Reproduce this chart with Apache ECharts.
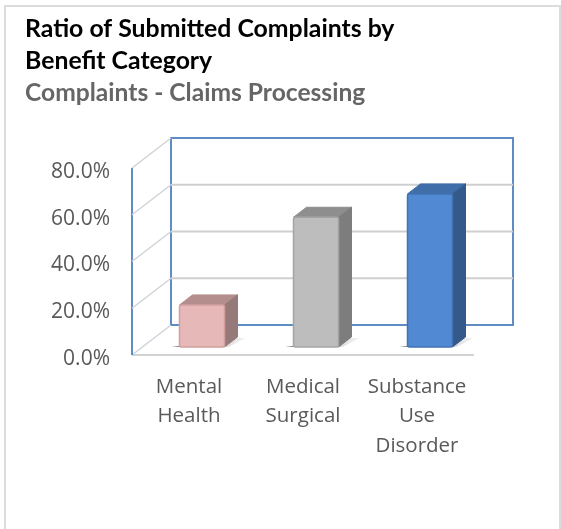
<!DOCTYPE html>
<html><head><meta charset="utf-8">
<style>html,body{margin:0;padding:0;background:#fff}#c{width:561px;height:529px}</style>
<script src="https://cdn.jsdelivr.net/npm/echarts@6/dist/echarts.min.js"></script>
</head><body><div id="c"></div>
<script>
const categories = ['Mental\nHealth', 'Medical\nSurgical', 'Substance\nUse\nDisorder'];
const ratios = [0.18, 0.555, 0.655];
const axisTicks = [0, 0.2, 0.4, 0.6, 0.8];
const frontColors = ['#E6B8B7', '#BDBDBD', '#5289D3'];
const topColors = ['#B48E8D', '#8E8E8E', '#3F6EA9'];
const sideColors = ['#957A79', '#7D7D7D', '#345A8C'];
const edgeColors = ['#D29F9E', '#A5A5A5', '#4272B4'];

const DEPTH_X = 39, DEPTH_Y = -30;      // plot depth: floor front edge to back wall
const BAR_OFF_X = 13, BAR_OFF_Y = -8;   // bar front face inside the floor
const BAR_DX = 13, BAR_DY = -10;        // bar's own depth
const BAR_W = 45;

const chart = echarts.init(document.getElementById('c'), null, {renderer: 'canvas'});

function wallItem(params, api) {
  const g = params.coordSys, v = api.value(0);
  const yy = api.coord([0, v])[1];
  const L = g.x, R = g.x + g.width;
  const kids = [];
  const grey = (shape, c, w) => ({type: 'polyline', shape, style: {fill: null, stroke: c, lineWidth: w}});
  const isTop = v === axisTicks[axisTicks.length - 1], isBottom = v === 0;
  kids.push(grey({points: [[L, yy], [L + DEPTH_X, yy + DEPTH_Y]]}, '#D0D3D8', 1.5));
  if (isBottom) {
    kids.push(grey({points: [[L, yy], [R, yy]]}, '#D2D2D2', 2));
    kids.push({type: 'polyline', shape: {points: [[L + DEPTH_X, yy + DEPTH_Y], [R + DEPTH_X, yy + DEPTH_Y], [R + DEPTH_X, g.y + DEPTH_Y], [L + DEPTH_X, g.y + DEPTH_Y], [L + DEPTH_X, yy + DEPTH_Y]]}, style: {fill: null, stroke: '#5F8DC3', lineWidth: 2}});
    kids.push({type: 'polyline', shape: {points: [[L, yy], [L, g.y]]}, style: {fill: null, stroke: '#5F8DC3', lineWidth: 2}});
  } else if (!isTop) {
    kids.push(grey({points: [[L + DEPTH_X, yy + DEPTH_Y], [R + DEPTH_X, yy + DEPTH_Y]]}, '#CFCFCF', 2));
  }
  return {type: 'group', children: kids};
}

function barItem(params, api) {
  const i = api.value(0), v = api.value(1);
  const base = api.coord([i, 0]), top = api.coord([i, v]);
  const x0 = base[0] + BAR_OFF_X - BAR_W / 2, x1 = x0 + BAR_W;
  const yb = base[1] + BAR_OFF_Y, yt = top[1] + BAR_OFF_Y;
  const dx = BAR_DX, dy = BAR_DY;
  return {type: 'group', children: [
    {type: 'polygon', shape: {points: [[x0 - 8, yb], [x1 + 4, yb], [x1 + dx + 8, yb + dy + 1], [x1 + dx - 4, yb + dy + 1]]},
      style: {fill: new echarts.graphic.LinearGradient(0, 1, 1, 0, [{offset: 0, color: 'rgba(90,90,90,0.85)'}, {offset: 1, color: 'rgba(190,190,190,0.2)'}])}},
    {type: 'polygon', shape: {points: [[x0, yt], [x0 + dx, yt + dy], [x1 + dx, yt + dy], [x1, yt]]},
      style: {fill: topColors[i], stroke: topColors[i], lineWidth: 1, lineJoin: 'round'}},
    {type: 'polygon', shape: {points: [[x1, yt], [x1 + dx, yt + dy], [x1 + dx, yb + dy], [x1, yb]]},
      style: {fill: sideColors[i], stroke: sideColors[i], lineWidth: 1, lineJoin: 'round'}},
    {type: 'rect', shape: {x: x0, y: yt, width: BAR_W, height: yb - yt, r: 2},
      style: {fill: frontColors[i], stroke: edgeColors[i], lineWidth: 1.5}}
  ]};
}

chart.setOption({
  animation: false,
  backgroundColor: '#fff',
  graphic: [{type: 'polyline', silent: true, z: -1, shape: {points: [[5, 529], [5, 6], [560, 6], [560, 529]]}, style: {fill: null, stroke: '#DCDCDC', lineWidth: 2}}],
  title: {
    left: 20, top: 8, itemGap: 0,
    text: 'Ratio of Submitted Complaints by\nBenefit Category',
    subtext: 'Complaints - Claims Processing',
    textStyle: {fontFamily: 'Lato', fontSize: 24.8, fontWeight: 'bold', color: '#000', lineHeight: 32},
    subtextStyle: {fontFamily: 'Lato', fontSize: 24.6, fontWeight: 'bold', color: '#666', lineHeight: 32}
  },
  grid: {left: 132, top: 168, width: 342, height: 187},
  xAxis: {type: 'category', data: categories, axisLine: {show: false}, axisTick: {show: false}, splitLine: {show: false},
    axisLabel: {fontFamily: 'Open Sans', fontSize: 20.5, color: '#595959', lineHeight: 29.5, margin: 17, interval: 0}},
  yAxis: {type: 'value', min: 0, max: 0.8, interval: 0.2, axisLine: {show: false}, axisTick: {show: false}, splitLine: {show: false},
    axisLabel: {fontFamily: 'Open Sans', fontSize: 21, color: '#595959', margin: 22, verticalAlign: 'top', lineHeight: 8, formatter: v => (v * 100).toFixed(1) + '%'}},
  series: [
    {type: 'custom', renderItem: wallItem, data: axisTicks.map(v => [v]), encode: {y: 0}, silent: true, z: 1, clip: false},
    {type: 'custom', renderItem: barItem, data: ratios.map((v, i) => [i, v]), encode: {x: 0, y: 1}, silent: true, z: 2, clip: false}
  ]
});
</script></body></html>
